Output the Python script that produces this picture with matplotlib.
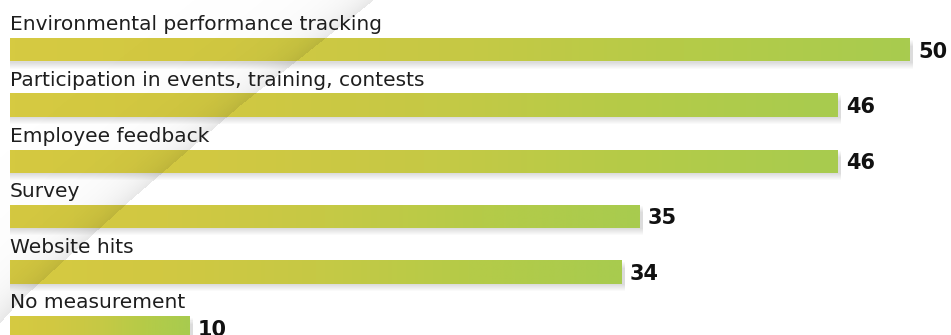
import numpy as np
import matplotlib.pyplot as plt
from matplotlib.colors import LinearSegmentedColormap
from matplotlib.patches import Rectangle

categories = [
    "Environmental performance tracking",
    "Participation in events, training, contests",
    "Employee feedback",
    "Survey",
    "Website hits",
    "No measurement",
]
values = [50, 46, 46, 35, 34, 10]

W, H, DPI = 951, 335, 100
PX = 18.0      # pixels per unit on x
ROW = 55.6     # pixels between bar centres
X0 = 10        # left margin in pixels
Y0 = 50        # centre of first bar in pixels

fig = plt.figure(figsize=(W / DPI, H / DPI), dpi=DPI)
ax = fig.add_axes([0, 0, 1, 1])
ax.axis('off')

xlim = (-X0 / PX, (W - X0) / PX)
ylim = ((H - Y0) / ROW, -Y0 / ROW)

bar_cmap = LinearSegmentedColormap.from_list(
    "bar", ["#d6ca41", "#d1c842", "#c6c945", "#b5cb48", "#a8cb4f"])
grad = np.linspace(0, 1, 256).reshape(1, -1)

dy = 1 / ROW
dx = 1 / PX
h = 23 * dy

for i, (label, v) in enumerate(zip(categories, values)):
    # soft drop shadow under each bar
    for k in range(1, 8):
        ax.add_patch(Rectangle((0, i - h / 2 + k * dy), v + 3 * dx, h,
                               color='k', alpha=0.018, lw=0, zorder=1))
    ax.imshow(grad, cmap=bar_cmap, aspect='auto', interpolation='bilinear',
              extent=[0, v, i + h / 2, i - h / 2], zorder=2)
    ax.text(0, i - h / 2 - 8 * dy, label, fontsize=14.5, color='#1e1e1e',
            ha='left', va='baseline', zorder=5)
    ax.text(v + 8 * dx, i + 7.5 * dy, str(v), fontsize=15, fontweight='bold',
            color='#111111', ha='left', va='baseline', zorder=5)

# faint curved sheen across the left part of the chart
yy, xx = np.mgrid[0:H, 0:W].astype(float)
curve_y = np.array([-10, 0, 105, 200, 300, 345])
curve_x = np.array([386, 373, 240, 130, 20, -20])
edge = np.interp(yy, curve_y, curve_x)
d = edge - xx
shade = np.zeros((H, W, 4))
alpha = np.where(d > 0, 0.075 * np.exp(-d / 22) + 0.02 * np.exp(-d / 110), 0.0)
shade[..., 3] = alpha
ax.imshow(shade, aspect='auto', interpolation='bilinear', origin='upper',
          extent=[xlim[0], xlim[1], ylim[0], ylim[1]], zorder=3)

ax.set_xlim(*xlim)
ax.set_ylim(*ylim)

fig.savefig("out.png", dpi=DPI)
